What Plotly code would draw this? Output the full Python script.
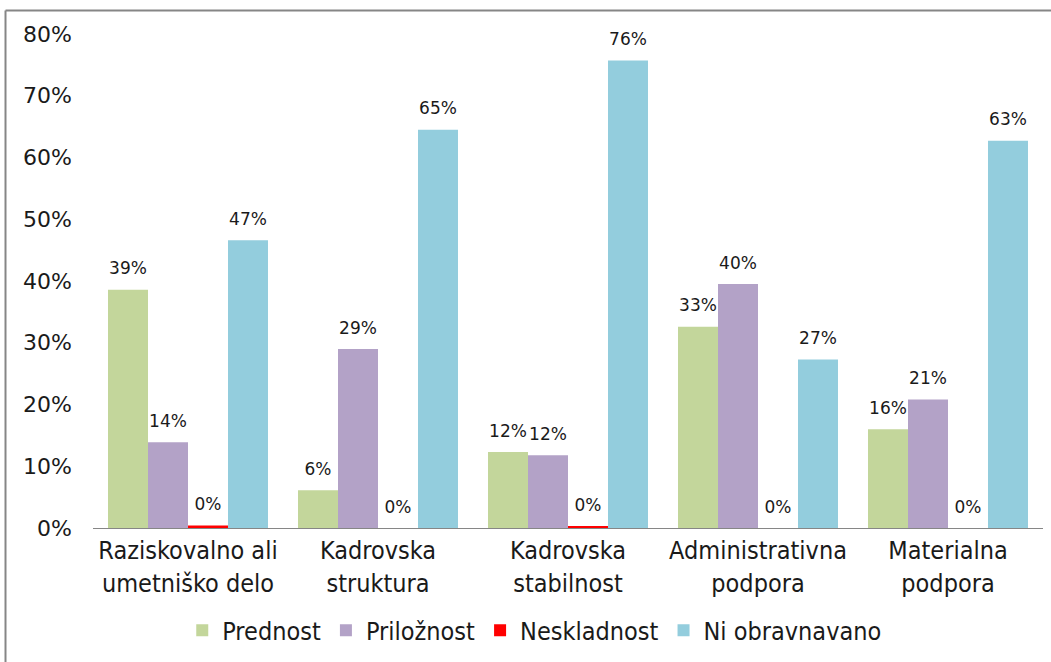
import plotly.graph_objects as go

categories = ["Raziskovalno ali<br>umetniško delo", "Kadrovska<br>struktura", "Kadrovska<br>stabilnost",
              "Administrativna<br>podpora", "Materialna<br>podpora"]
series_names = ["Prednost", "Priložnost", "Neskladnost", "Ni obravnavano"]
prednost = [0.386, 0.061, 0.123, 0.326, 0.160]
priloznost = [0.139, 0.290, 0.118, 0.395, 0.208]
neskladnost = [0.004, 0.0, 0.002, 0.0, 0.0]
ni_obravnavano = [0.466, 0.645, 0.757, 0.273, 0.627]
colors = ["#C3D69B", "#B3A2C7", "#FF0000", "#93CDDD"]
y_ticks = [0, 0.1, 0.2, 0.3, 0.4, 0.5, 0.6, 0.7, 0.8]

fig = go.Figure()
for name, vals, col in zip(series_names, [prednost, priloznost, neskladnost, ni_obravnavano], colors):
    fig.add_trace(go.Bar(
        x=categories, y=vals, name=name, marker=dict(color=col, line=dict(width=0)),
        texttemplate="<span style='font-size:17px'>%{y:.0%}</span><br>&nbsp;",
        textposition="outside", cliponaxis=False, constraintext="none",
        textfont=dict(family="DejaVu Sans", size=8, color="#1a1a1a"),
    ))

fig.update_layout(
    width=1051, height=662,
    margin=dict(l=93, r=8, t=34, b=132),
    paper_bgcolor="white", plot_bgcolor="white",
    barmode="group", bargap=0.158, bargroupgap=0,
    showlegend=True,
    legend=dict(orientation="h", x=0.465, xanchor="center", y=-0.2077, yanchor="middle",
                font=dict(family="DejaVu Sans Condensed", size=25, color="#1a1a1a"),
                itemwidth=30, traceorder="normal"),
    font=dict(family="DejaVu Sans", color="#1a1a1a"),
    shapes=[
        dict(type="line", xref="paper", yref="paper", x0=-0.0921, x1=1.02, y0=1.0474, y1=1.0474,
             line=dict(color="#868686", width=2)),
        dict(type="line", xref="paper", yref="paper", x0=-0.0921, x1=-0.0921, y0=1.0474, y1=-0.3,
             line=dict(color="#868686", width=2)),
    ],
)
fig.update_yaxes(range=[0, 0.8], tickvals=y_ticks, tickformat=".0%", showgrid=False, zeroline=False,
                 showline=False, ticks="", ticklabelstandoff=20,
                 tickfont=dict(family="DejaVu Sans", size=22, color="#1a1a1a"))
fig.update_xaxes(showline=True, linecolor="#868686", linewidth=1, ticks="", showgrid=False,
                 tickfont=dict(family="DejaVu Sans Condensed", size=25, color="#1a1a1a"))

fig.write_html("out.html", config={"displayModeBar": False},
               post_script="document.body.style.margin='0';")
